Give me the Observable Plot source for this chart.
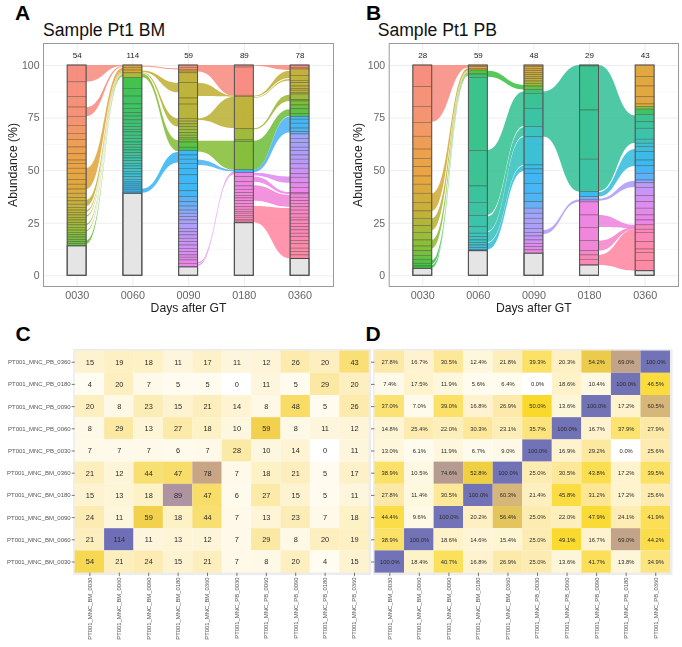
<!DOCTYPE html>
<html><head><meta charset="utf-8">
<script src="https://cdn.jsdelivr.net/npm/d3@7"></script>
<script src="https://cdn.jsdelivr.net/npm/@observablehq/plot@0.6"></script>
<style>
html,body{margin:0;padding:0;background:#fff;font-family:"Liberation Sans",sans-serif}
#page{position:relative;width:682px;height:647px;overflow:hidden}
#page svg{position:absolute;background:transparent;filter:blur(0.3px)}
.letter{position:absolute;font-weight:bold;font-size:21px;line-height:22px;color:#000}
.title{position:absolute;font-size:17.6px;line-height:20px;color:#111;white-space:nowrap}
</style></head><body><div id="page"></div>
<script>
const days = ["0030","0060","0090","0180","0360"];
const palette = ["#f8887c","#e8a038","#c0ae30","#82bc30","#38c040","#30c088","#30c0c8","#30b4f4","#98a0fc","#c88ef8","#ec80e8","#f880c0","#ff84a0"];

// Panel A: clone counts, base (unassigned) share, clone boundaries, hue stops, ribbons
const countsA = [54,114,59,89,78];
const basesA = [14,39,4,25,8];
const edgesA0030 = [92,85,80,75.6,71.3,67.5,64.6,61,57.8,54.8,53.2,50.9,48.5,45.6,43.3,41,39,37,35.4,33.8,32.3,31,29.9,28.7,27.5,26.3,25.1,24,22.8,21.5,20.4,19.3,18.2,17,16,15.2];
const edgesA0060 = [98.9,97.6,96.3,94.1,88.9,85.2,81.5,79.4,77.3,75.7,73.9,72.3,70.7,69.4,68.2,66.6,65,63.4,62.2,60.9,59.6,58.3,57,55.8,54.5,53.2,52,50.7,49.4,48.2,46.9,45.6,44.4,43.4,42.5,41.5,40.6,39.6];
const edgesA0090 = [98.9,97.9,97.1,96.3,91.6,84.3,81.4,74.6,73.3,72,70.7,69.4,67.8,66.6,65.6,64.7,63.4,60.9,59.3,57.2,55.2,53.2,50.8,47.8,43.7,40.2,37.4,35,32.9,31,29.5,27.9,26.3,24.7,22.3,20.7,19.2,17.6,16,14.4,12.8,11.3,9.7,8.6,7.3,5.7];
const edgesA0180 = [99,85.6,85,69.7,64.4,63.6,50.2,48.8,46.9,44.5,42.5,40.9,39.3,38,36.8,35.5,34.2,32.6,31.4,30.4,29.5,28.5,27.6,26.6,25.8];
const edgesA0360 = [98.9,98.1,95,92.7,91.6,90,88.8,88,87,86.2,83.5,82.9,81,79.2,77,75.5,74.2,72.3,70,68.3,67.2,65.1,63.1,60.9,59.3,57.2,55.2,53,50.9,48.3,46.6,44,41.8,39.3,38.7,37.1,35.5,34.2,32.6,31,29.2,27.6,26.3,24.7,23.1,21.6,20,18.4,16.5,15,12.9,11.3,9.7];
const huesA0030 = [[100,0],[75,0.2],[60,0.8],[50,1],[40,1.4],[33,2],[25,2.5],[18,3.2],[14,3.6]];
const huesA0060 = [[100,1.2],[97,1.7],[95,2.4],[94,4],[60,5],[50,6],[40,7]];
const huesA0090 = [[100,0],[97.5,0.6],[97,2],[75,2.2],[66,3],[60,4],[59.2,4],[59,7],[40,7],[33,7.5],[28,8],[15,9],[4,10]];
const huesA0180 = [[100,0],[85.4,0],[85,2],[70,2.2],[64,3],[50.2,3.1],[50,7],[49,7.2],[48.9,10],[35,10.4],[25,11.5]];
const huesA0360 = [[100,0],[98.5,0],[98,1.7],[97,2],[86,2.2],[84,3],[76,3.8],[75.9,7],[68,7.2],[67,8],[55,8.5],[45,9.5],[40,10],[30,11],[8,12]];
const ribbonsA = [
 [0,100,92,100,99.6,0],[0,79.9,75.6,99.5,99,0],[0,51,41,98.7,97.2,1.2],[0,35.8,32.8,97,96.5,1.9],
 [0,31,30.2,96.4,96.2,2.2],[0,28.5,27.8,96.1,95.9,2.4],[0,24.5,23.8,95.8,95.6,2.7],[0,21.5,21,95.5,95.3,2.9],[0,16.6,15,95.2,94.7,3.3],
 [1,99.6,99.2,98.4,97.9,0],[1,97.4,96.8,91.5,87,2],[1,96.6,96.2,74.6,70.7,2.2],[1,95.9,94.2,64.2,59,3],[1,41.2,39.2,58.8,53.6,7],
 [2,100,96.9,100,85.4,0],[2,91.5,85.2,85.4,84.9,2],[2,74.6,73.8,84.9,70,2.1],[2,64,58.9,64,50.2,3],[2,55,52.4,50.2,49.4,7.2],
 [2,6.2,5.6,49.3,48.8,9.6],[2,5.2,4.6,48.6,48,9.8],
 [3,100,99.6,100,97.6,0],[3,85.4,85,97.3,93.8,2],[3,84.6,84.3,93.4,92.6,2.1],[3,69.9,69.4,86,82.9,2.6],[3,64,50.2,79,75.8,3.3],[3,50.2,49,75.5,68,7.2],
 [3,48.8,47.5,47,44,9.6],[3,47,44.5,39.6,38.6,10],[3,42.8,35.5,38.2,32.6,10.4],[3,33,25.2,32,8,12]
];

// Panel B
const countsB = [28,59,48,29,43];
const basesB = [3.3,11.7,10.5,4.9,2.2];
const edgesB0030 = [89.7,80.3,72.7,66.1,60,55.6,51.7,47.2,43.3,39,34.7,30.6,27.1,23.6,20.4,16.8,13.9,11.7,9.5,7.6,5.7,4.4];
const edgesB0060 = [99.2,98.4,97.6,95.7,94.1,59.3,42.5,34.7,28.4,23.1,20,18.4,16.8,15.6,14.4,13.2,12.2];
const edgesB0090 = [99.2,98.2,97.3,96.3,95.4,94.4,93.5,92.4,91.3,90,88.4,86.5,79.4,70.7,65.9,52.5,50.6,48.5,43.7,39,35,31.9,29.5,27.1,24.7,22.3,20.4,18.7,16.8,15.2,13.6,12.1];
const edgesB0180 = [99.5,78.6,55.2,39.8,37.4,35.8,34.9,28.7,22.7,16.5,11.7,9.7,7.6];
const edgesB0360 = [94.5,90,84.9,81.5,80.2,79,76.5,73,69.9,64.7,62.8,61.2,58.8,54.8,52.1,48.5,45.3,44,41.8,37.9,35,31.9,28.7,26.3,24,21.9,20.4,16,12.5,10.8,7];
const huesB0030 = [[100,0],[73,0.3],[60,0.8],[47,1],[39,1.5],[30,2],[20,2.6],[10,3.3],[5,4],[3.3,4]];
const huesB0060 = [[100,1.3],[97.7,1.3],[97.5,3.6],[95.8,4],[94,5],[60,5],[28,5.4],[20,5.7],[15,6],[12,6.8]];
const huesB0090 = [[100,1.3],[93,2],[90,3],[88.5,4],[87,5],[72,5.5],[66,6],[52,6.5],[50,7],[35,7.2],[30,8],[20,8.5],[14,9.5],[10.5,10]];
const huesB0180 = [[100,5],[55,5.2],[40,5.5],[39.5,6.5],[36,7.8],[35,10],[12,10.5],[9,11.3],[5,11.5]];
const huesB0360 = [[100,1.2],[81,1.2],[80,2.5],[79,4],[76,5],[65,5.6],[60,6.5],[52,7],[45,7.5],[44,8.5],[35,9.5],[25,10],[23.5,11],[10,12],[2,12]];
const ribbonsB = [
 [0,100,73,100,98.8,0],[0,38.9,30.6,98.4,97.4,1.6],[0,27.1,21.5,97.2,96.8,2.2],[0,16.8,12.8,96.5,96,2.9],[0,7.2,5.4,95.8,95.5,4],[0,4.8,3.6,95.4,95,4.2],
 [1,97.3,94.4,90.5,88.4,4],[1,59.6,28.7,87.4,71,5.1],[1,28,21,70.4,66.2,5.4],[1,20.6,15.8,65.8,52.5,5.8],[1,15.4,12.3,52.1,49.6,6.3],
 [2,87.4,66,100,39.8,5.2],[2,21.5,19.6,36,35,8.5],
 [3,100,40,76,63,5.2],[3,39.5,37.5,60,52,6.4],[3,36.5,35.5,45,42,8.4],[3,28.7,23,24,22.5,10.2],[3,16.5,11.7,23,22,10.8],[3,9.7,4.9,22,2.2,12]
];

// Heatmap labels and tables (rows listed from top to bottom)
const colLabels = ["PT001_MNC_BM_0030","PT001_MNC_BM_0060","PT001_MNC_BM_0090","PT001_MNC_BM_0180","PT001_MNC_BM_0360","PT001_MNC_PB_0030","PT001_MNC_PB_0060","PT001_MNC_PB_0090","PT001_MNC_PB_0180","PT001_MNC_PB_0360"];
const rowLabels = ["PT001_MNC_PB_0360","PT001_MNC_PB_0180","PT001_MNC_PB_0090","PT001_MNC_PB_0060","PT001_MNC_PB_0030","PT001_MNC_BM_0360","PT001_MNC_BM_0180","PT001_MNC_BM_0090","PT001_MNC_BM_0060","PT001_MNC_BM_0030"];
const sharedCounts = [
 [15,19,18,11,17,11,12,26,20,43],[4,20,7,5,5,0,11,5,29,20],[20,8,23,15,21,14,8,48,5,26],[8,29,13,27,18,10,59,8,11,12],[7,7,7,6,7,28,10,14,0,11],
 [21,12,44,47,78,7,18,21,5,17],[15,13,18,89,47,6,27,15,5,11],[24,11,59,18,44,7,13,23,7,18],[21,114,11,13,12,7,29,8,20,19],[54,21,24,15,21,7,8,20,4,15]];
const sharedPct = [
 [27.8,16.7,30.5,12.4,21.8,39.3,20.3,54.2,69.0,100.0],[7.4,17.5,11.9,5.6,6.4,0.0,18.6,10.4,100.0,46.5],[37.0,7.0,39.0,16.8,26.9,50.0,13.6,100.0,17.2,60.5],
 [14.8,25.4,22.0,30.3,23.1,35.7,100.0,16.7,37.9,27.9],[13.0,6.1,11.9,6.7,9.0,100.0,16.9,29.2,0.0,25.6],[38.9,10.5,74.6,52.8,100.0,25.0,30.5,43.8,17.2,39.5],
 [27.8,11.4,30.5,100.0,60.3,21.4,45.8,31.2,17.2,25.6],[44.4,9.6,100.0,20.2,56.4,25.0,22.0,47.9,24.1,41.9],[38.9,100.0,18.6,14.6,15.4,25.0,49.1,16.7,69.0,44.2],[100.0,18.4,40.7,16.8,26.9,25.0,13.6,41.7,13.8,34.9]];

const font = '"Liberation Sans",sans-serif';
const halfBar = 0.17;
const page = document.getElementById("page");

function hueAt(stops, y){
  for (let i = 1; i < stops.length; i++) {
    const [y0,h0] = stops[i-1], [y1,h1] = stops[i];
    if (y >= y1) return h0 + (h1-h0)*(y0-y)/((y0-y1)||1);
  }
  return stops[stops.length-1][1];
}

function alluvial(o){
  const segs = [], bases = [], outers = [];
  o.edges.forEach((ed,i)=>{
    const ys = [100,...ed,o.bases[i]];
    for (let k=1;k<ys.length;k++) segs.push({x:i,y1:ys[k-1],y2:ys[k],hue:hueAt(o.hues[i],(ys[k-1]+ys[k])/2)});
    bases.push({x:i,y1:0,y2:o.bases[i]});
    outers.push({x:i,y1:0,y2:100});
  });
  const rib = [];
  o.ribbons.forEach((r,id)=>{
    rib.push({id,x:r[0]+halfBar,y1:r[1],y2:r[2],hue:r[5]});
    rib.push({id,x:r[0]+1-halfBar,y1:r[3],y2:r[4],hue:r[5]});
  });
  const counts = o.counts.map((c,i)=>({x:i,c}));
  const X = d=>d.x-halfBar, X2 = d=>d.x+halfBar;
  const svg = Plot.plot({
    width:o.w, height:320,
    marginLeft:o.ml, marginRight:o.mr, marginTop:43, marginBottom:34,
    style:{fontFamily:font, background:"transparent", overflow:"visible"},
    x:{domain:[-0.604,4.6]},
    y:{domain:[-5.09,110.46]},
    color:{type:"linear",domain:palette.map((_,i)=>i),range:palette,interpolate:"rgb"},
    marks:[
      Plot.ruleY([12.5,37.5,62.5,87.5],{stroke:"#f4f4f4",strokeWidth:0.6}),
      Plot.ruleY([0,25,50,75,100],{stroke:"#ebebeb",strokeWidth:0.9}),
      Plot.ruleX([0,1,2,3,4],{stroke:"#ebebeb",strokeWidth:0.9}),
      Plot.areaY(rib,{x:"x",y1:"y1",y2:"y2",z:"id",fill:"hue",curve:"bump-x",fillOpacity:0.85}),
      Plot.rect(segs,{x1:X,x2:X2,y1:"y1",y2:"y2",fill:"hue",fillOpacity:0.95,stroke:"#3a2a20",strokeOpacity:0.45,strokeWidth:0.65}),
      Plot.rect(bases,{x1:X,x2:X2,y1:"y1",y2:"y2",fill:"#e5e5e5",stroke:"#444",strokeWidth:1}),
      Plot.rect(outers,{x1:X,x2:X2,y1:"y1",y2:"y2",fill:"none",stroke:"#555",strokeWidth:1}),
      Plot.text(counts,{x:"x",y:()=>105,text:d=>String(d.c),fontSize:8,fill:"#222"}),
      Plot.frame({stroke:"#9a9a9a",strokeWidth:1}),
      Plot.axisX({ticks:[0,1,2,3,4],tickFormat:i=>days[i],tickSize:0,tickPadding:5,fontSize:10.8,fill:"#666",label:null}),
      Plot.axisX({ticks:[],label:"Days after GT",labelAnchor:"center",labelArrow:"none",labelOffset:o.xoff,fontSize:12.2,fill:"#222"}),
      Plot.axisY({ticks:[0,25,50,75,100],tickSize:0,tickPadding:4,fontSize:10.5,fill:"#666",label:null}),
      Plot.axisY({ticks:[],label:"Abundance (%)",labelAnchor:"center",labelArrow:"none",labelOffset:o.yoff,fontSize:12.2,fill:"#222"})
    ]
  });
  svg.style.left = o.left+"px"; svg.style.top = "0px";
  page.appendChild(svg);
}

alluvial({left:0,w:341,ml:43,mr:8,xoff:25.5,yoff:35,counts:countsA,bases:basesA,ribbons:ribbonsA,
  edges:[edgesA0030,edgesA0060,edgesA0090,edgesA0180,edgesA0360],hues:[huesA0030,huesA0060,huesA0090,huesA0180,huesA0360]});
alluvial({left:341,w:341,ml:47.7,mr:4,xoff:25.5,yoff:36,counts:countsB,bases:basesB,ribbons:ribbonsB,
  edges:[edgesB0030,edgesB0060,edgesB0090,edgesB0180,edgesB0360],hues:[huesB0030,huesB0060,huesB0090,huesB0180,huesB0360]});

function heat(o){
  const cells = [];
  rowLabels.forEach((r,i)=>colLabels.forEach((c,j)=>cells.push({r,c,v:o.table[i][j]})));
  const svg = Plot.plot({
    width:o.w, height:307, marginLeft:o.ml, marginRight:o.mr, marginTop:10.6, marginBottom:74.4,
    style:{fontFamily:font, background:"transparent", overflow:"visible"},
    x:{domain:colLabels,padding:0,round:false},
    y:{domain:rowLabels,padding:0,round:false},
    color:{type:"linear",domain:o.stops,range:o.colors,interpolate:"rgb"},
    marks:[
      Plot.frame({stroke:"#ececec",strokeWidth:4}),
      Plot.cell(cells,{x:"c",y:"r",fill:"v"}),
      Plot.text(cells,{x:"c",y:"r",text:o.fmt,fontSize:o.fs,fill:"#2b2b2b"}),
      Plot.axisX({tickRotate:-90,tickSize:3.5,tickPadding:1,fontSize:5.85,fill:"#555",stroke:"#777",label:null}),
      Plot.axisY(o.showY?{tickSize:3,tickPadding:1.5,fontSize:6,fill:"#555",stroke:"#777",label:null}:{tickSize:3.5,tickFormat:()=>"",stroke:"#777",label:null})
    ]
  });
  svg.style.left = o.left+"px"; svg.style.top = "340px";
  page.appendChild(svg);
}
heat({left:0,w:375,ml:74.7,mr:6.3,table:sharedCounts,showY:true,fs:7.4,fmt:d=>String(d.v),
  stops:[0,20,57,78,89,114],colors:["#ffffff","#fdefc0","#f6d648","#c8a585","#ae93a0","#6f6fb7"]});
heat({left:360,w:322,ml:14.5,mr:12,table:sharedPct,showY:false,fs:5.8,fmt:d=>d.v.toFixed(1)+"%",
  stops:[0,14,28,50,60,69,100],colors:["#ffffff","#fef6d8","#fde9a6","#fad92a","#d8b878","#c4a488","#7272b6"]});

[["A",15,2],["B",366,2],["C",15.5,322.5],["D",365.5,322.5]].forEach(([t,x,y])=>{
  const d=document.createElement("div");d.className="letter";d.textContent=t;d.style.left=x+"px";d.style.top=y+"px";page.appendChild(d);
});
[["Sample Pt1 BM",43,20],["Sample Pt1 PB",377.7,20]].forEach(([t,x,y])=>{
  const d=document.createElement("div");d.className="title";d.textContent=t;d.style.left=x+"px";d.style.top=y+"px";page.appendChild(d);
});
</script></body></html>
